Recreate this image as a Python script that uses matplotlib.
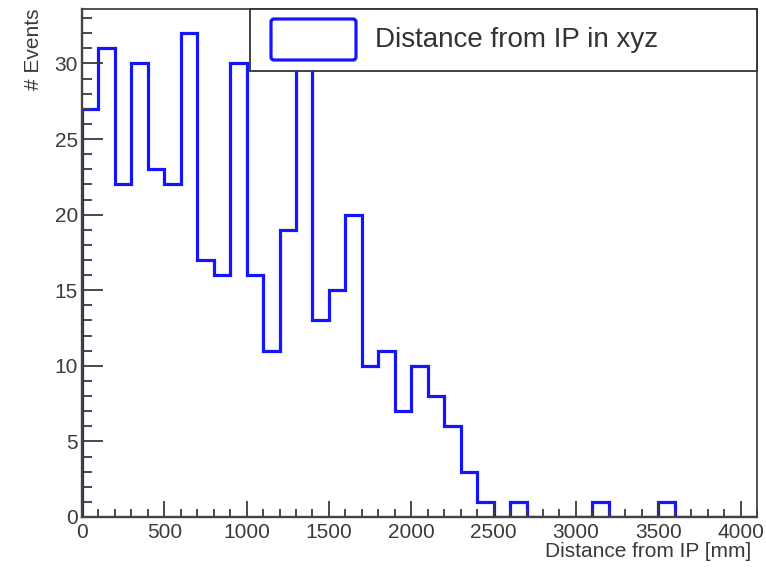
import numpy as np
import matplotlib
matplotlib.use("Agg")
import matplotlib.pyplot as plt
from matplotlib.patches import Rectangle, FancyBboxPatch
from matplotlib.ticker import MultipleLocator

plt.rcParams['font.family'] = ['Liberation Sans', 'DejaVu Sans']

bin_edges = np.arange(0, 4101, 100)
counts = [27, 31, 22, 30, 23, 22, 32, 17, 16, 30,
          16, 11, 19, 31, 13, 15, 20, 10, 11, 7,
          10, 8, 6, 3, 1, 0, 1, 0, 0, 0,
          0, 1, 0, 0, 0, 1, 0, 0, 0, 0, 0]
legend_label = "Distance from IP in xyz"
x_label = "Distance from IP [mm]"
y_label = "# Events"

W, H = 766, 572
fig = plt.figure(figsize=(W / 100, H / 100), dpi=100)
L, R, T, B = 82, 757, 9, 517
ax = fig.add_axes([L / W, 1 - B / H, (R - L) / W, (B - T) / H])

blue = '#1414ff'
ax.stairs(counts, bin_edges, color=blue, lw=2.3, baseline=0)
ax.set_xlim(0, 4100)
ax.set_ylim(0, max(counts) * 1.05)

ax.xaxis.set_major_locator(MultipleLocator(500))
ax.xaxis.set_minor_locator(MultipleLocator(100))
ax.yaxis.set_major_locator(MultipleLocator(5))
ax.yaxis.set_minor_locator(MultipleLocator(1))
tc = '#3a3a3a'
ax.tick_params(axis='x', which='major', direction='in', length=11.5, width=1.3, color=tc,
               labelsize=15, labelcolor=tc, pad=4)
ax.tick_params(axis='x', which='minor', direction='in', length=5.8, width=1.3, color=tc)
ax.tick_params(axis='y', which='major', direction='in', length=15, width=1.3, color=tc,
               labelsize=15, labelcolor=tc, pad=3)
ax.tick_params(axis='y', which='minor', direction='in', length=7.2, width=1.3, color=tc)
for s in ax.spines.values():
    s.set_color('#444444')
    s.set_linewidth(1.3)
ax.spines['left'].set_linewidth(1.7)
ax.spines['bottom'].set_linewidth(1.7)

ax.set_xlabel(x_label, fontsize=15, color=tc, loc='right', labelpad=0)
ax.xaxis.label.set_position((0.992, 0))
ax.set_ylabel(y_label, fontsize=15, color=tc, loc='top', labelpad=8)

# legend box (pixel coordinates, dpi=100)
lx0, lx1, ly0, ly1 = 250, 757, 9, 71
leg = Rectangle((lx0, H - ly1), lx1 - lx0, ly1 - ly0, transform=None,
                facecolor='white', edgecolor='#333333', lw=1.3, zorder=5)
fig.patches.append(leg)
box = FancyBboxPatch((271, H - 60), 85, 41, boxstyle="round,pad=0,rounding_size=3",
                     transform=None, facecolor='white', edgecolor=blue, lw=2.3, zorder=6)
fig.patches.append(box)
fig.text(375 / W, 1 - 40 / H, legend_label, fontsize=20, color='#333333',
         va='center', ha='left', zorder=7)

fig.savefig('out.png', dpi=100)
